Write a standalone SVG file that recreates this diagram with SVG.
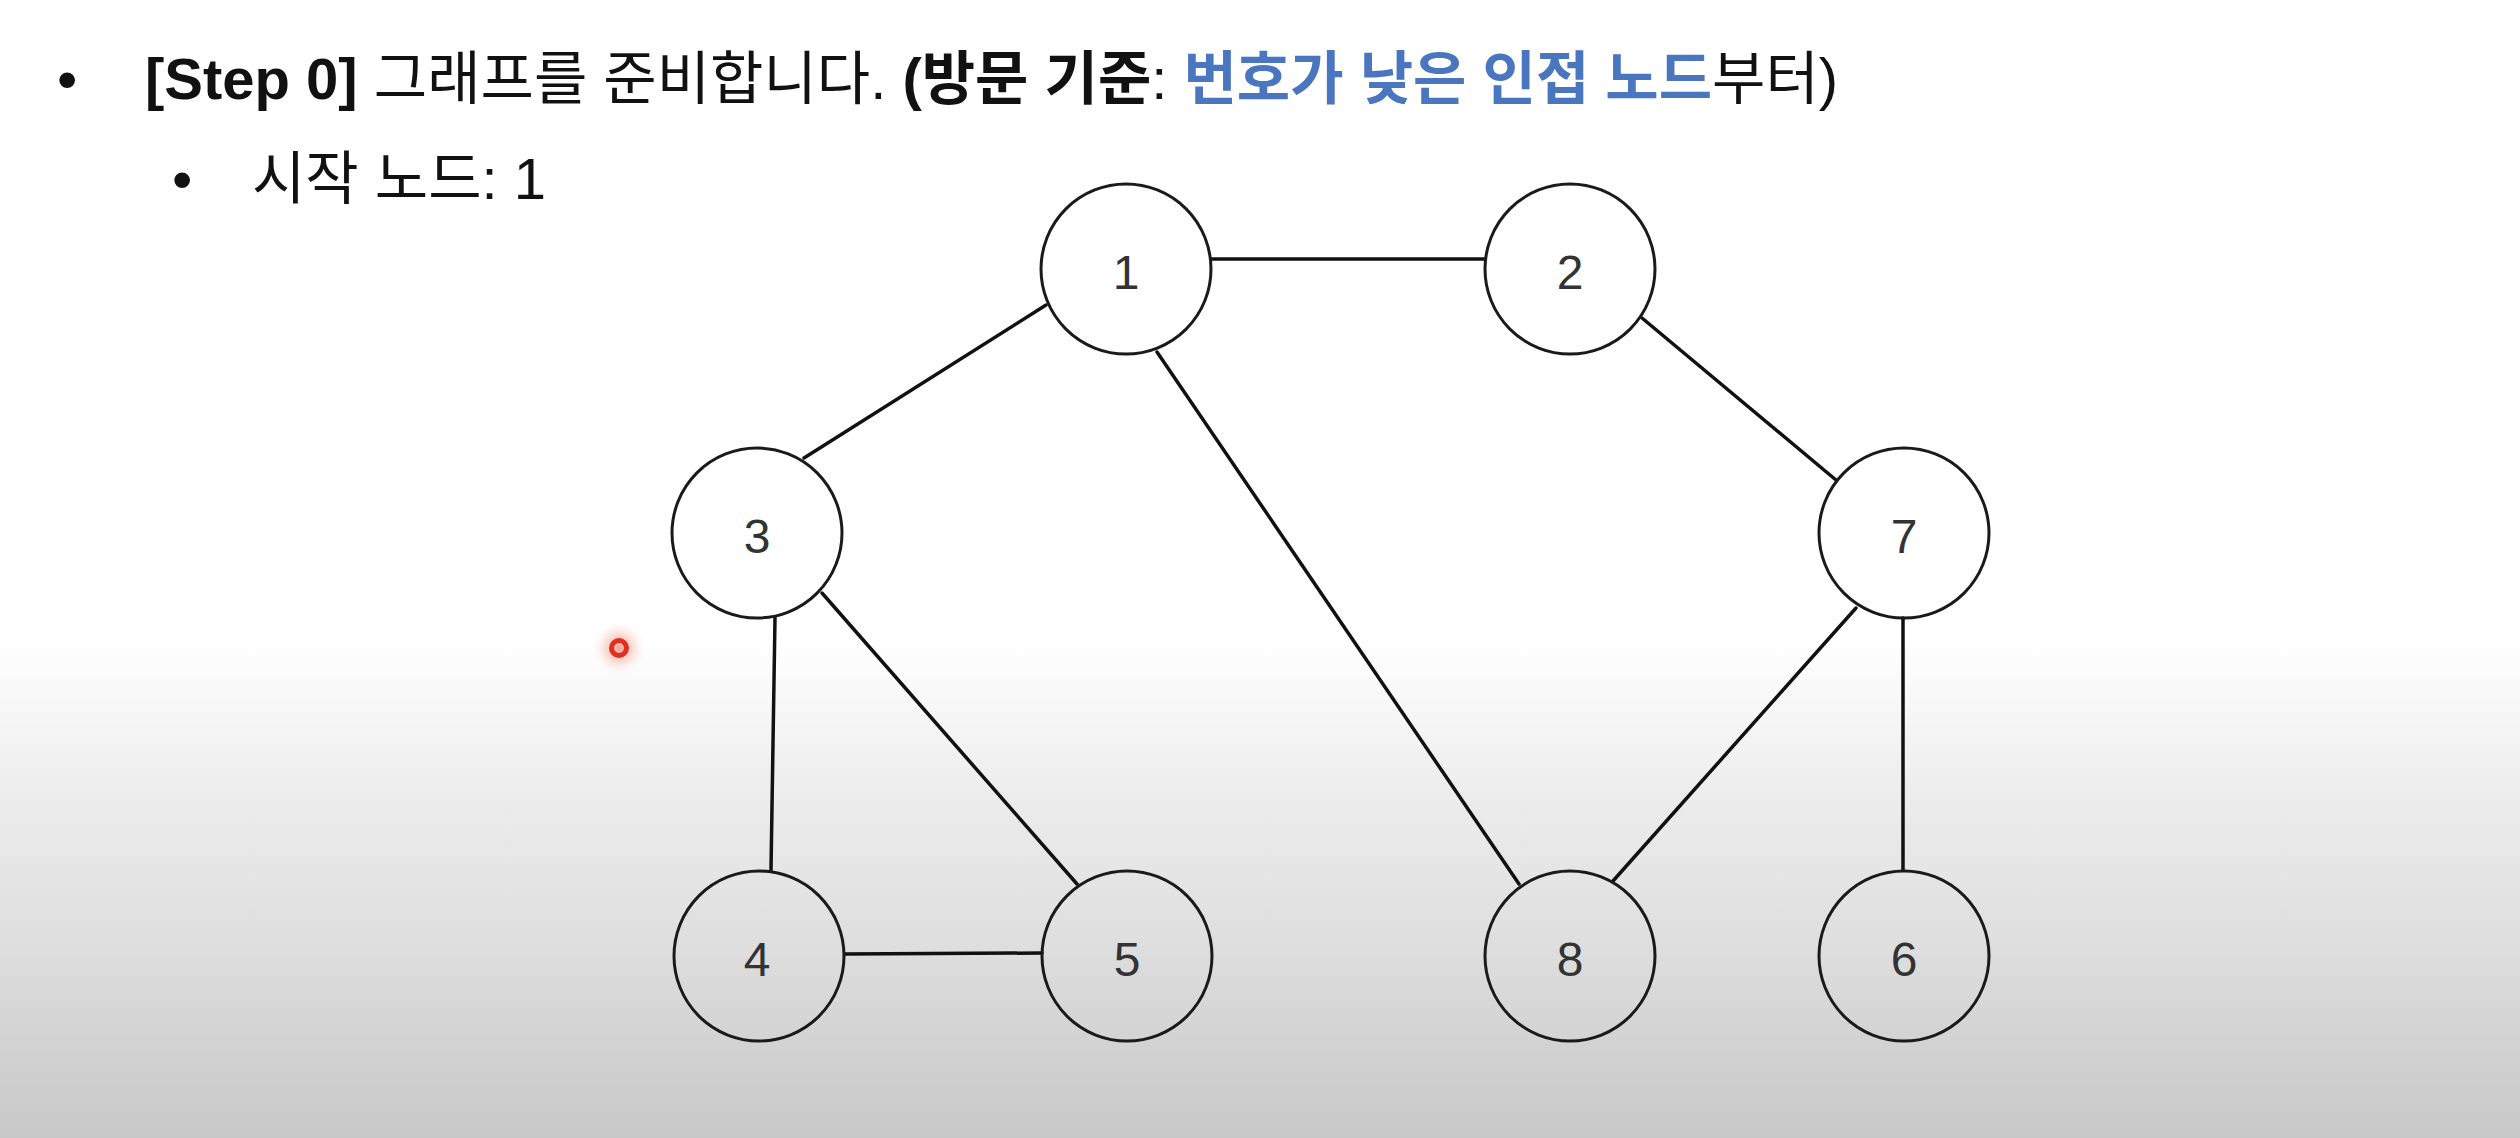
<svg xmlns="http://www.w3.org/2000/svg" width="2520" height="1138" viewBox="0 0 2520 1138">
<defs>
<linearGradient id="bg" gradientUnits="userSpaceOnUse" x1="0" y1="640" x2="0" y2="1138">
<stop offset="0" stop-color="#ffffff"/>
<stop offset="0.32" stop-color="#ececec"/>
<stop offset="0.62" stop-color="#dedede"/>
<stop offset="0.85" stop-color="#d0d0d0"/>
<stop offset="1" stop-color="#c8c8c8"/>
</linearGradient>
<radialGradient id="glow">
<stop offset="0" stop-color="#f08070" stop-opacity="0.7"/>
<stop offset="0.5" stop-color="#f5a090" stop-opacity="0.35"/>
<stop offset="1" stop-color="#ffffff" stop-opacity="0"/>
</radialGradient>
<style>
.t{font-family:"Liberation Sans","Noto Sans CJK KR",sans-serif;font-size:58px;fill:#111}
.b{font-weight:bold}
.blue{fill:#4a76c0;font-weight:bold}
.node{fill:none;stroke:#1a1a1a;stroke-width:3}
.lbl{font-family:"Liberation Sans","Noto Sans",sans-serif;font-size:48px;fill:#333;text-anchor:middle;dominant-baseline:central}
.edge{stroke:#111;stroke-width:3.5;fill:none;stroke-linecap:round}
</style>
</defs>
<rect width="2520" height="1138" fill="url(#bg)"/>
<g id="title">
<text class="t" x="57" y="99">•</text>
<text class="t" x="145" y="99"><tspan class="b">[Step 0]</tspan> 그래프를 준비합니다. <tspan class="b">(방문 기준</tspan>: <tspan class="blue">번호가 낮은 인접 노드</tspan>부터)</text>
<text class="t" x="172" y="199">•</text>
<text class="t" x="252" y="199">시작 노드: 1</text>
</g>
<g id="connectors">
<line class="edge" x1="1211" y1="259" x2="1485" y2="259"/>
<line class="edge" x1="1046" y1="305" x2="804" y2="458"/>
<line class="edge" x1="1157" y1="352" x2="1519" y2="884"/>
<line class="edge" x1="1642" y1="318" x2="1836" y2="480"/>
<line class="edge" x1="775" y1="618" x2="771" y2="870"/>
<line class="edge" x1="822" y1="593" x2="1077" y2="884"/>
<line class="edge" x1="1856" y1="608" x2="1613" y2="881"/>
<line class="edge" x1="1903" y1="618" x2="1903" y2="870"/>
<line class="edge" x1="845" y1="954" x2="1042" y2="953"/>
</g>
<g id="node1"><circle class="node" cx="1126" cy="269" r="85"/><text class="lbl" x="1126" y="272">1</text></g>
<g id="node2"><circle class="node" cx="1570" cy="269" r="85"/><text class="lbl" x="1570" y="272">2</text></g>
<g id="node3"><circle class="node" cx="757" cy="533" r="85"/><text class="lbl" x="757" y="536">3</text></g>
<g id="node7"><circle class="node" cx="1904" cy="533" r="85"/><text class="lbl" x="1904" y="536">7</text></g>
<g id="node4"><circle class="node" cx="759" cy="956" r="85"/><text class="lbl" x="757" y="959">4</text></g>
<g id="node5"><circle class="node" cx="1127" cy="956" r="85"/><text class="lbl" x="1127" y="959">5</text></g>
<g id="node8"><circle class="node" cx="1570" cy="956" r="85"/><text class="lbl" x="1570" y="959">8</text></g>
<g id="node6"><circle class="node" cx="1904" cy="956" r="85"/><text class="lbl" x="1904" y="959">6</text></g>
<g id="pointer">
<circle cx="619" cy="648" r="28" fill="url(#glow)"/>
<circle cx="619" cy="648" r="7.5" fill="none" stroke="#e0301e" stroke-width="5"/>
</g>
</svg>
